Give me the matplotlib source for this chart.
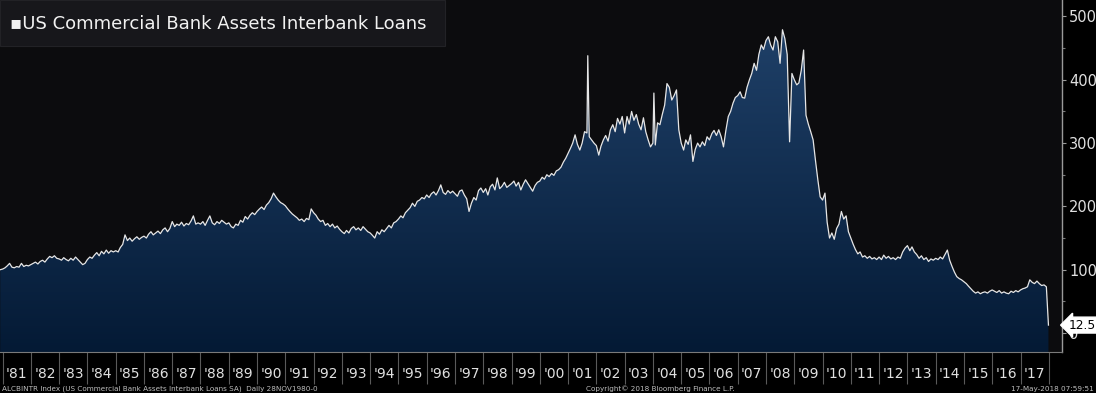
import numpy as np
import pandas as pd
import matplotlib
matplotlib.use('Agg')
import matplotlib.pyplot as plt
import matplotlib.dates as mdates
from matplotlib.colors import LinearSegmentedColormap
from matplotlib.transforms import blended_transform_factory

# monthly readings (USD bn), Dec 1980 then Jan..Dec of each year
start_value = [100]
y1981 = [101, 103, 106, 110, 104, 103, 105, 104, 110, 105, 107, 106]
y1982 = [108, 110, 112, 109, 113, 115, 112, 117, 121, 119, 122, 118]
y1983 = [117, 115, 119, 116, 114, 118, 115, 120, 116, 112, 108, 110]
y1984 = [116, 120, 118, 123, 127, 122, 129, 125, 131, 126, 130, 128]
y1985 = [130, 128, 135, 140, 155, 146, 150, 145, 149, 152, 148, 151]
y1986 = [153, 150, 156, 160, 155, 158, 161, 157, 163, 166, 160, 165]
y1987 = [176, 168, 172, 170, 175, 169, 173, 171, 177, 185, 172, 174]
y1988 = [172, 176, 170, 178, 185, 174, 171, 176, 173, 178, 175, 172]
y1989 = [174, 168, 166, 172, 170, 178, 175, 184, 180, 186, 190, 187]
y1990 = [192, 196, 199, 195, 202, 206, 212, 221, 215, 210, 206, 204]
y1991 = [201, 196, 192, 188, 185, 182, 178, 180, 176, 181, 179, 196]
y1992 = [190, 186, 180, 176, 178, 170, 173, 168, 172, 166, 169, 164]
y1993 = [160, 157, 162, 158, 165, 168, 163, 166, 162, 168, 164, 160]
y1994 = [158, 154, 150, 160, 156, 163, 160, 165, 170, 166, 174, 176]
y1995 = [180, 185, 182, 190, 194, 198, 205, 200, 208, 210, 214, 212]
y1996 = [218, 214, 220, 223, 218, 225, 234, 222, 219, 225, 221, 224]
y1997 = [220, 216, 224, 226, 218, 212, 192, 205, 214, 210, 225, 229]
y1998 = [222, 228, 218, 231, 235, 226, 245, 228, 232, 238, 230, 233]
y1999 = [236, 240, 232, 238, 226, 235, 242, 236, 230, 224, 233, 238]
y2000 = [240, 246, 243, 250, 247, 252, 249, 256, 258, 262, 270, 276]
y2001 = [284, 292, 300, 313, 298, 289, 300, 318, 316, 310, 305, 300]
y2002 = [296, 281, 295, 305, 312, 303, 321, 329, 318, 339, 330, 342]
y2003 = [316, 342, 330, 350, 336, 345, 330, 321, 340, 318, 305, 294]
y2004 = [300, 297, 332, 329, 345, 360, 394, 388, 368, 375, 384, 321]
y2005 = [300, 289, 305, 298, 313, 271, 290, 300, 294, 302, 296, 310]
y2006 = [305, 315, 320, 312, 321, 310, 294, 320, 342, 350, 363, 372]
y2007 = [375, 381, 372, 371, 388, 400, 410, 426, 415, 440, 455, 448]
y2008 = [462, 468, 455, 447, 468, 460, 426, 479, 465, 440, 302, 410]
y2009 = [400, 392, 395, 415, 447, 344, 330, 318, 305, 273, 242, 215]
y2010 = [210, 221, 175, 150, 158, 148, 165, 172, 192, 180, 185, 160]
y2011 = [150, 140, 132, 125, 128, 120, 122, 118, 121, 117, 119, 116]
y2012 = [120, 116, 123, 118, 121, 117, 119, 116, 120, 118, 128, 134]
y2013 = [138, 130, 136, 128, 124, 118, 122, 116, 119, 113, 117, 115]
y2014 = [118, 116, 120, 117, 124, 131, 115, 105, 96, 89, 86, 84]
y2015 = [81, 78, 74, 70, 66, 63, 65, 62, 64, 65, 63, 66]
y2016 = [68, 66, 64, 67, 63, 65, 63, 62, 66, 64, 67, 65]
y2017 = [68, 70, 71, 73, 84, 80, 78, 82, 78, 75, 76, 73]

# short-lived spikes and the last print
spike_dates = ['2001-09-12', '2004-01-14']
spike_values = [438, 379]
last_date = '2017-12-28'
last_value = 12.5

years = [y1981, y1982, y1983, y1984, y1985, y1986, y1987, y1988, y1989, y1990,
         y1991, y1992, y1993, y1994, y1995, y1996, y1997, y1998, y1999, y2000,
         y2001, y2002, y2003, y2004, y2005, y2006, y2007, y2008, y2009, y2010,
         y2011, y2012, y2013, y2014, y2015, y2016, y2017]
monthly = start_value + [v for yr in years for v in yr]
months = pd.date_range('1980-12-01', '2017-12-01', freq='MS')

s = pd.Series(monthly, index=months)
s = pd.concat([s, pd.Series(spike_values, index=pd.to_datetime(spike_dates)),
               pd.Series([last_value], index=pd.to_datetime([last_date]))]).sort_index()

x = mdates.date2num(s.index.to_pydatetime())
y = s.values.astype(float)

W, H = 1096, 393
fig = plt.figure(figsize=(W / 100, H / 100), dpi=100, facecolor='#000000')
ax = fig.add_axes([0, 1 - 352 / H, 1062 / W, 352 / H])
ax.set_facecolor('#0c0c0e')

ymin, ymax = -30, 526
xmin = mdates.date2num(pd.Timestamp('1980-11-28'))
xmax = mdates.date2num(pd.Timestamp('2018-06-21'))

# gradient area under the line
poly = ax.fill_between(x, y, ymin, color='none', lw=0)
cmap = LinearSegmentedColormap.from_list('blu', ['#041a35', '#1f4068'])
grad = np.linspace(0, 1, 256).reshape(-1, 1)
im = ax.imshow(grad, extent=[xmin, xmax, ymin, 480], origin='lower',
               aspect='auto', cmap=cmap, zorder=1)
im.set_clip_path(poly.get_paths()[0], transform=ax.transData)

ax.plot(x, y, color='#e6e6e6', lw=0.9, zorder=3)

ax.set_xlim(xmin, xmax)
ax.set_ylim(ymin, ymax)

# right value axis
ax.yaxis.tick_right()
ax.set_yticks([0, 100, 200, 300, 400, 500])
ax.set_yticks([50, 150, 250, 350, 450], minor=True)
ax.tick_params(axis='y', which='major', colors='#9a9a9a', length=3, width=0.8,
               labelcolor='#e0e0e0', labelsize=10.5, pad=2)
ax.tick_params(axis='y', which='minor', colors='#777777', length=2, width=0.8)

# year separators and labels
year_starts = [pd.Timestamp(f'{yr}-01-01') for yr in range(1981, 2019)]
mid_years = [pd.Timestamp(f'{yr}-07-01') for yr in range(1981, 2018)]
ax.set_xticks(mdates.date2num(year_starts))
ax.set_xticklabels([''] * len(year_starts))
ax.set_xticks(mdates.date2num(mid_years), minor=True)
ax.set_xticklabels(["'" + str(d.year)[2:] for d in mid_years], minor=True)
ax.tick_params(axis='x', which='major', colors='#5a5a5a', length=23, width=0.8)
ax.tick_params(axis='x', which='minor', length=0, pad=11, labelcolor='#e0e0e0',
               labelsize=10)

for side in ['top', 'left']:
    ax.spines[side].set_visible(False)
ax.spines['right'].set_color('#9a9a9a')
ax.spines['bottom'].set_color('#7a7a7a')
ax.spines['right'].set_linewidth(1.0)
ax.spines['bottom'].set_linewidth(0.8)

# title box
fig.patches.append(plt.Rectangle((0, 1 - 46 / H), 445 / W, 46 / H,
                                 transform=fig.transFigure, facecolor='#17171b',
                                 edgecolor='#222226', lw=0.8, zorder=5))
fig.text(10 / W, 1 - 24 / H, '\u25aaUS Commercial Bank Assets Interbank Loans',
         color='#f2f2f2', fontsize=13, va='center', ha='left', zorder=6)

# last value tag
tr = blended_transform_factory(fig.transFigure, ax.transData)
ax.text(1069 / W, last_value, '12.5', transform=tr, fontsize=8.8, color='#000000',
        va='center', ha='left', clip_on=False, zorder=10,
        bbox=dict(boxstyle='larrow,pad=0.12', facecolor='white', edgecolor='white'))

# footer
fig.text(2 / W, 0.5 / H, 'ALCBINTR Index (US Commercial Bank Assets Interbank Loans SA)  Daily 28NOV1980-0',
         color='#bdbdbd', fontsize=5.2, ha='left', va='bottom')
fig.text(660 / W, 0.5 / H, 'Copyright\u00a9 2018 Bloomberg Finance L.P.',
         color='#bdbdbd', fontsize=5.2, ha='center', va='bottom')
fig.text(1094 / W, 0.5 / H, '17-May-2018 07:59:51',
         color='#bdbdbd', fontsize=5.2, ha='right', va='bottom')

fig.savefig('out.png', dpi=100, facecolor=fig.get_facecolor())
